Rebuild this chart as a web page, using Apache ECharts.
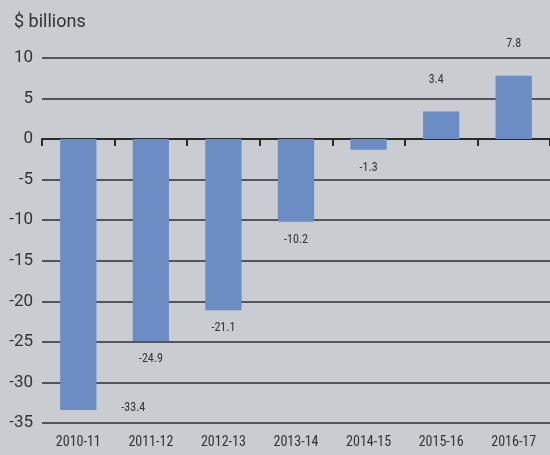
<!DOCTYPE html>
<html><head><meta charset="utf-8">
<script src="https://cdn.jsdelivr.net/npm/echarts@6/dist/echarts.min.js"></script>
<style>html,body{margin:0;padding:0;background:#c9ccd1;}#c{width:550px;height:455px;}</style>
</head><body><div id="c"></div>
<script>
const categories = ['2010-11','2011-12','2012-13','2013-14','2014-15','2015-16','2016-17'];
const values = [-33.4, -24.9, -21.1, -10.2, -1.3, 3.4, 7.8];
const yTicks = [-35, -30, -25, -20, -15, -10, -5, 0, 5, 10];

const chart = echarts.init(document.getElementById('c'));
const narrow = "'Liberation Sans Narrow', 'Roboto Condensed', Roboto, sans-serif";
const data = values.map((v, i) => {
  const lab = v < 0 ? {position: 'bottom', distance: 12} : {position: 'top', distance: 26};
  if (i === 0) { lab.position = 'bottom'; lab.distance = -8; lab.offset = [55, 0]; }
  if (i === 5) { lab.offset = [-5, 0]; }
  return {value: v, label: lab};
});
chart.setOption({
  backgroundColor: '#c9ccd1',
  animation: false,
  graphic: [{type: 'text', left: 14, top: 13, style: {text: '$ billions', fontSize: 18, fill: '#333', fontFamily: 'Roboto, sans-serif'}}],
  grid: {left: 42, top: 58, width: 516, height: 365, containLabel: false},
  xAxis: [
    {type: 'category', data: categories, position: 'bottom', axisLine: {show: false, onZero: false}, axisTick: {show: false},
     axisLabel: {color: '#333', fontSize: 14, fontFamily: narrow, margin: 12}},
    {type: 'category', data: categories, position: 'bottom', axisLine: {show: true, onZero: true, lineStyle: {color: '#2a2a2a', width: 2}},
     axisTick: {show: true, inside: false, length: 7, lineStyle: {color: '#2a2a2a', width: 2}}, axisLabel: {show: false}}
  ],
  yAxis: {type: 'value', min: -35, max: 10, interval: 5,
    axisLine: {show: false}, axisTick: {show: false},
    axisLabel: {color: '#333', fontSize: 17, fontFamily: 'Roboto, sans-serif', margin: 9,
      formatter: v => yTicks.includes(v) ? String(v) : ''},
    splitLine: {show: true, lineStyle: {color: '#2e2e2e', width: 1.5}}},
  series: [{type: 'bar', data: data, barWidth: '50%', xAxisIndex: 0,
    itemStyle: {color: '#6b8dc3'},
    label: {show: true, color: '#333', fontSize: 12, fontFamily: narrow}}]
});
</script></body></html>
